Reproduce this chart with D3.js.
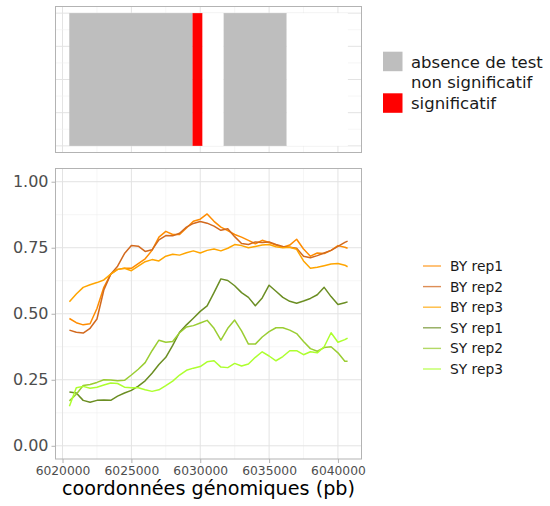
<!DOCTYPE html>
<html><head><meta charset="utf-8">
<script src="https://cdn.jsdelivr.net/npm/d3@7"></script>
<style>body{margin:0;background:#fff}svg{display:block;font-family:"DejaVu Sans",sans-serif}</style>
</head><body>
<svg id="chart" width="550" height="506"></svg>
<script>
// ---------- data ----------
const positions = [6020500,6021000,6021500,6022000,6022500,6023000,6023500,6024000,6024500,6025000,
  6025500,6026000,6026500,6027000,6027500,6028000,6028500,6029000,6029500,6030000,
  6030500,6031000,6031500,6032000,6032500,6033000,6033500,6034000,6034500,6035000,
  6035500,6036000,6036500,6037000,6037500,6038000,6038500,6039000,6039500,6040000,
  6040500,6040700];
const seriesNames = ["BY rep1","BY rep2","BY rep3","SY rep1","SY rep2","SY rep3"];
const seriesColors = ["#FF8C00","#D2691E","#FFA500","#6B8E23","#9ACD32","#ADFF2F"];
const byRep1 = [.482,.466,.458,.462,.520,.600,.650,.668,.672,.672,.690,.708,.740,.790,.812,.800,.800,.825,.850,.858,
  .878,.850,.828,.815,.800,.790,.778,.765,.778,.770,.760,.752,.760,.782,.745,.718,.730,.728,.740,.758,.752,.748];
const byRep2 = [.438,.430,.427,.445,.480,.590,.650,.680,.728,.758,.756,.736,.742,.780,.796,.795,.805,.828,.842,.849,
  .843,.832,.816,.822,.792,.766,.762,.772,.770,.772,.762,.755,.752,.748,.718,.712,.720,.730,.740,.755,.770,.775];
const byRep3 = [.545,.575,.600,.610,.618,.628,.650,.668,.672,.663,.680,.697,.705,.700,.718,.725,.722,.731,.738,.730,
  .740,.745,.738,.748,.762,.758,.750,.755,.760,.762,.754,.750,.752,.744,.700,.672,.676,.682,.688,.690,.684,.678];
const syRep1 = [.204,.200,.172,.165,.172,.173,.172,.188,.200,.210,.226,.246,.275,.308,.335,.380,.430,.458,.483,.509,
  .530,.580,.632,.626,.606,.580,.562,.530,.560,.608,.585,.562,.547,.540,.548,.558,.572,.600,.565,.535,.542,.545];
const syRep2 = [.170,.195,.228,.232,.240,.250,.249,.246,.248,.268,.290,.315,.360,.400,.392,.395,.428,.450,.455,.465,
  .475,.445,.400,.445,.476,.435,.385,.385,.412,.432,.447,.447,.438,.425,.395,.368,.358,.372,.375,.352,.320,.320];
const syRep3 = [.150,.220,.225,.218,.222,.230,.238,.236,.222,.220,.220,.212,.206,.212,.228,.245,.268,.286,.294,.300,
  .318,.322,.298,.296,.312,.302,.310,.335,.356,.340,.322,.338,.360,.360,.345,.356,.352,.375,.428,.392,.402,.408];
const seriesValues = [byRep1,byRep2,byRep3,syRep1,syRep2,syRep3];

const tileStart = [6020490,6029440,6030170,6031700,6036280];
const tileEnd   = [6029440,6030170,6031700,6036280,6040720];
const tileStatus = ["absence de test","significatif","non significatif","absence de test","non significatif"];
const statusNames = ["absence de test","non significatif","significatif"];
const statusColors = ["#BEBEBE","#FFFFFF","#FF0000"];

const xTicks = [6020000,6025000,6030000,6035000,6040000];
const xMinor = [6022500,6027500,6032500,6037500];
const yTicks = [0,0.25,0.5,0.75,1];
const yTickLabels = ["0.00","0.25","0.50","0.75","1.00"];
const yMinor = [0.125,0.375,0.625,0.875];
const topYGrid = [0,0.125,0.25,0.375,0.5,0.625,0.75,0.875,1];
const xTitle = "coordonnées génomiques (pb)";

// ---------- layout ----------
const svg = d3.select("#chart");
const L = 55.5, R = 361.5;
const x = d3.scaleLinear().domain([6019490, 6041710]).range([L, R]);
const yb = d3.scaleLinear().domain([-0.05, 1.05]).range([459, 168.5]);
const yt = d3.scaleLinear().domain([-0.05, 1.05]).range([152.5, 6.5]);
const gridCol = "#E3E3E3", minorCol = "#F0F0F0", borderCol = "#B3B3B3";

// ---------- top panel ----------
const gTop = svg.append("g");
gTop.append("rect").attr("x", L).attr("y", 6.5).attr("width", R-L).attr("height", 146).attr("fill", "#fff");
gTop.selectAll(".vm").data(xMinor).join("line").attr("x1", d=>x(d)).attr("x2", d=>x(d))
  .attr("y1", 6.5).attr("y2", 152.5).attr("stroke", minorCol).attr("stroke-width", 0.6);
gTop.selectAll(".vM").data(xTicks).join("line").attr("x1", d=>x(d)).attr("x2", d=>x(d))
  .attr("y1", 6.5).attr("y2", 152.5).attr("stroke", gridCol).attr("stroke-width", 1);
gTop.selectAll(".hg").data(topYGrid).join("line").attr("x1", L).attr("x2", R)
  .attr("y1", d=>yt(d)).attr("y2", d=>yt(d)).attr("stroke", (d,i)=> i%2 ? minorCol : gridCol)
  .attr("stroke-width", (d,i)=> i%2 ? 0.6 : 1);
const sc = d3.scaleOrdinal().domain(statusNames).range(statusColors);
gTop.selectAll(".tile").data(tileStart).join("rect")
  .attr("x", (d,i)=>x(tileStart[i])).attr("width", (d,i)=>x(tileEnd[i])-x(tileStart[i]))
  .attr("y", yt(1)).attr("height", yt(0)-yt(1)).attr("fill", (d,i)=>sc(tileStatus[i]));
gTop.append("rect").attr("x", L).attr("y", 6.5).attr("width", R-L).attr("height", 146)
  .attr("fill", "none").attr("stroke", borderCol).attr("stroke-width", 1);

// top legend
const lg1 = svg.append("g");
statusNames.forEach((s,i)=>{
  const cy = 61.5 + i*20.8;
  lg1.append("rect").attr("x", 383).attr("y", cy-9.8).attr("width", 19.5).attr("height", 19.5).attr("fill", statusColors[i]);
  lg1.append("text").attr("x", 411).attr("y", cy+6).attr("font-size", 16.5).attr("fill", "#1A1A1A").text(s);
});

// ---------- bottom panel ----------
const bot = svg.append("g");
bot.selectAll(".vm").data(xMinor).join("line").attr("x1", d=>x(d)).attr("x2", d=>x(d))
  .attr("y1", 168.5).attr("y2", 459).attr("stroke", minorCol).attr("stroke-width", 0.6);
bot.selectAll(".hm").data(yMinor).join("line").attr("x1", L).attr("x2", R)
  .attr("y1", d=>yb(d)).attr("y2", d=>yb(d)).attr("stroke", minorCol).attr("stroke-width", 0.6);
bot.selectAll(".vM").data(xTicks).join("line").attr("x1", d=>x(d)).attr("x2", d=>x(d))
  .attr("y1", 168.5).attr("y2", 459).attr("stroke", gridCol).attr("stroke-width", 1);
bot.selectAll(".hM").data(yTicks).join("line").attr("x1", L).attr("x2", R)
  .attr("y1", d=>yb(d)).attr("y2", d=>yb(d)).attr("stroke", gridCol).attr("stroke-width", 1);

const line = d3.line().x((d,i)=>x(positions[i])).y(d=>yb(d));
bot.selectAll(".series").data(seriesValues).join("path")
  .attr("d", d=>line(d)).attr("fill", "none").attr("stroke", (d,i)=>seriesColors[i])
  .attr("stroke-width", 1.5).attr("stroke-linejoin", "round");

bot.append("rect").attr("x", L).attr("y", 168.5).attr("width", R-L).attr("height", 459-168.5)
  .attr("fill", "none").attr("stroke", borderCol).attr("stroke-width", 1);

// axes
const yAxis = d3.axisLeft(yb).tickValues(yTicks).tickFormat((d,i)=>yTickLabels[i]).tickSize(4).tickPadding(3);
const ga = svg.append("g").attr("transform", `translate(${L},0)`).call(yAxis);
ga.select(".domain").remove();
ga.selectAll("line").attr("stroke", borderCol);
ga.selectAll("text").attr("font-size", 16).attr("fill", "#4D4D4D").attr("font-family", "DejaVu Sans");

const xAxis = d3.axisBottom(x).tickValues(xTicks).tickFormat(d3.format("d")).tickSize(4).tickPadding(3);
const gx = svg.append("g").attr("transform", `translate(0,459)`).call(xAxis);
gx.select(".domain").remove();
gx.selectAll("line").attr("stroke", borderCol);
gx.selectAll("text").attr("font-size", 12.3).attr("fill", "#4D4D4D").attr("font-family", "DejaVu Sans");

svg.append("text").attr("x", (L+R)/2).attr("y", 494.5).attr("text-anchor", "middle")
  .attr("font-size", 19.2).attr("fill", "#000").text(xTitle);

// bottom legend
const lg2 = svg.append("g");
seriesNames.forEach((s,i)=>{
  const cy = 266 + i*20.6;
  lg2.append("line").attr("x1", 423).attr("x2", 441).attr("y1", cy).attr("y2", cy)
    .attr("stroke", seriesColors[i]).attr("stroke-width", 1.4).attr("opacity", 0.75);
  lg2.append("text").attr("x", 450).attr("y", cy+5).attr("font-size", 13.8).attr("fill", "#1A1A1A").text(s);
});
</script>
</body></html>
